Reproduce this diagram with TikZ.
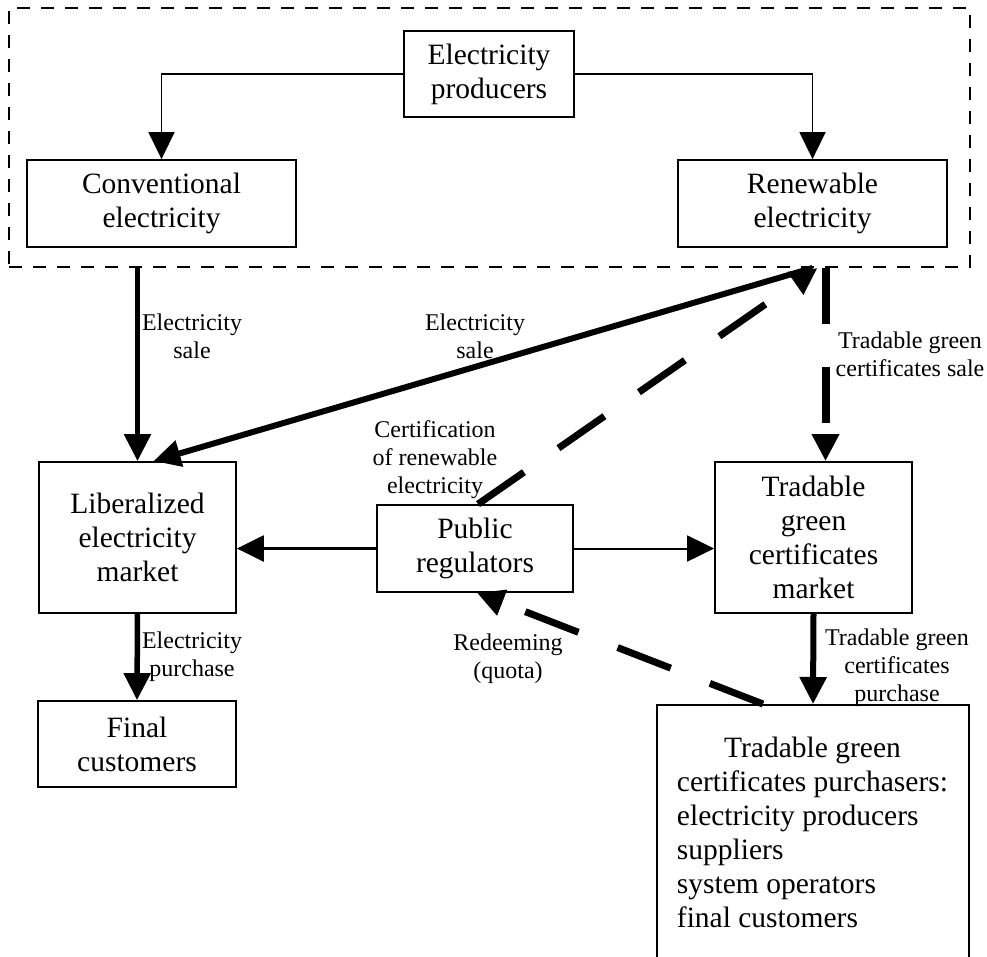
\documentclass[tikz,border=0pt]{standalone}
\usepackage{fontspec}
\setmainfont{Liberation Serif}
\usepackage{calc}
\usetikzlibrary{arrows.meta,calc}
\begin{document}
\begin{tikzpicture}[x=1pt,y=-1pt,
  box/.style={draw, line width=1.8pt, inner sep=0pt, align=center, font=\fontsize{29.5}{34}\selectfont},
  lbl/.style={inner sep=0pt, align=center, font=\fontsize{24}{28}\selectfont},
  >={Triangle[length=27pt,width=26pt]},
  thinconn/.style={->, line width=1.5pt},
  thickconn/.style={->, line width=#1},
  thickdash/.style={->, line width=7pt, dash pattern=on 56pt off 42pt}
]
\useasboundingbox (0,0) rectangle (987,956);
\clip (0,0) rectangle (987,956);

% dashed producer frame
\node[draw, line width=2pt, dash pattern=on 13pt off 11pt, minimum width=961pt, minimum height=259pt, inner sep=0pt] (outer) at (489.5,137.5) {};

% boxes
\node[box, minimum width=170pt, minimum height=86pt] (ep) at (489,74) {Electricity\\producers};
\node[box, minimum width=269pt, minimum height=87pt] (conv) at (161.5,203.5) {Conventional\\electricity};
\node[box, minimum width=269pt, minimum height=87pt] (ren) at (812.5,203.5) {Renewable\\electricity};
\node[box, minimum width=197pt, minimum height=151pt] (lib) at (137.5,537.5) {Liberalized\\electricity\\market};
\node[box, minimum width=196pt, minimum height=87pt] (pub) at (475,548.5) {Public\\regulators};
\node[box, minimum width=197pt, minimum height=151pt] (tgcm) at (813.5,537.5) {Tradable\\green\\certificates\\market};
\node[box, minimum width=198pt, minimum height=86pt] (final) at (137,744) {Final\\customers};
\node[draw, line width=1.8pt, inner sep=0pt, minimum width=312pt, minimum height=400pt, anchor=north] (purch) at (813,704) {};
\node[inner sep=0pt, align=left, anchor=north, font=\fontsize{29.5}{34}\selectfont] (purchtext) at (812.5,736.5)
  {\makebox[\widthof{certificates purchasers:}][c]{Tradable green}\\certificates purchasers:\\electricity producers\\suppliers\\system operators\\final customers};

% connectors
\draw[thinconn] (ep.west) -| (conv.north);
\draw[thinconn] (ep.east) -| (ren.north);

\coordinate (cl) at (lib.north |- outer.south);
\draw[thickconn=5.5pt] (cl) -- (lib.north);

\coordinate (rs) at (ren.south |- outer.south);
\coordinate (libin) at ($(lib.north)+(16,0)$);
\draw[thickconn=6pt] (rs) -- (libin);

\coordinate (tsa) at ($(outer.south -| tgcm.north)+(12,0)$);
\coordinate (tsb) at ($(tgcm.north)+(12,0)$);
\draw[->, line width=8pt, dash pattern=on 56pt off 43pt] (tsa) -- (tsb);

\coordinate (certa) at ($(pub.north)+(3,0)$);
\coordinate (certb) at ($(rs)+(5,0)$);
\draw[thickdash] (certa) -- (certb);

\draw[thickconn=2.5pt] (pub.west) -- (pub.west -| lib.east);
\draw[thickconn=2pt] (pub.east) -- (pub.east -| tgcm.west);

\draw[thickconn=5.5pt] (lib.south) -- (final.north);
\draw[thickconn=6pt] (tgcm.south) -- (purch.north);

\coordinate (reda) at ($(purch.north)+(-50,0)$);
\coordinate (redb) at ($(pub.south)+(2,0)$);
\draw[->, line width=7pt, dash pattern=on 57pt off 42pt] (reda) -- (redb);

% labels
\node[lbl] (l1) at (192,336) {Electricity\\sale};
\node[lbl] (l2) at (475,336) {Electricity\\sale};
\node[lbl] (l3) at (435,460) {Certification\\of renewable\\electricity};
\node[lbl] (l4) at (910,354) {Tradable green\\certificates sale};
\node[lbl] (l5) at (192,657) {Electricity\\purchase};
\node[lbl] (l6) at (508,659) {Redeeming\\(quota)};
\node[lbl] (l7) at (897,668) {Tradable green\\certificates\\purchase};
\end{tikzpicture}
\end{document}
